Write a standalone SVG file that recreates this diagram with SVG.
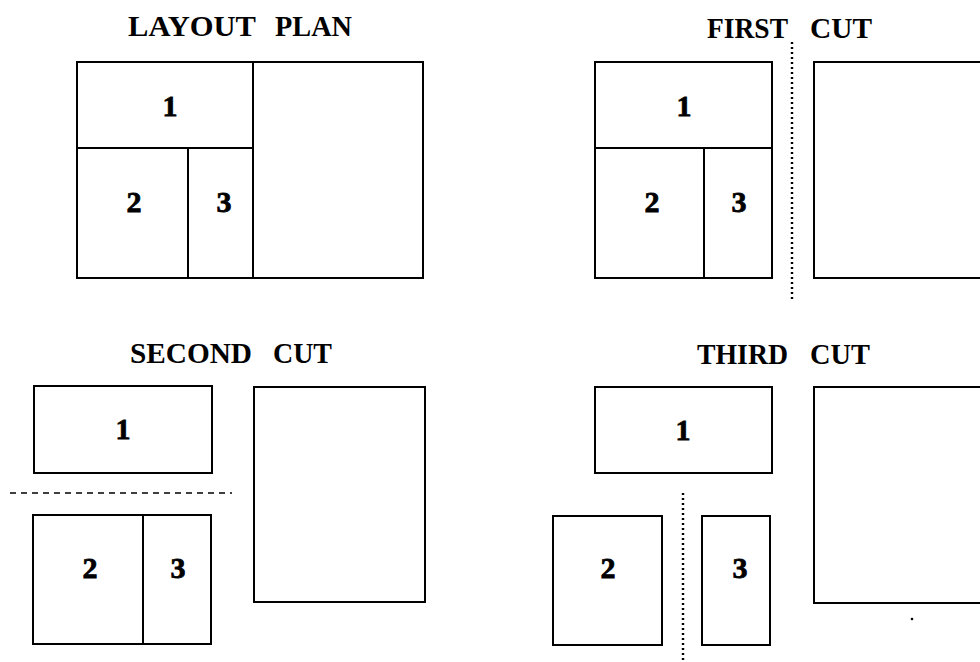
<svg xmlns="http://www.w3.org/2000/svg" width="980" height="662" viewBox="0 0 980 662">
<style>
.bx{fill:none;stroke:#000;stroke-width:2}
.ln{stroke:#000;stroke-width:2;fill:none}
.t{font-family:"Liberation Serif","Times New Roman",serif;font-weight:bold;font-size:29px;fill:#000}
.n{font-family:"Liberation Serif","Times New Roman",serif;font-weight:bold;font-size:30px;fill:#000;stroke:#000;stroke-width:0.8;text-anchor:middle}
.dot{stroke:#000;stroke-width:2.4;stroke-dasharray:2 3;fill:none}
.dash{stroke:#000;stroke-width:1.6;stroke-dasharray:6 5;fill:none}
</style>
<rect width="980" height="662" fill="#fff"/>

<g id="layout-plan">
<text class="t" x="128" y="36" textLength="128" lengthAdjust="spacingAndGlyphs">LAYOUT</text>
<text class="t" x="275" y="36" textLength="77" lengthAdjust="spacingAndGlyphs">PLAN</text>
<rect class="bx" x="77" y="62" width="346" height="216"/>
<line class="ln" x1="253" y1="62" x2="253" y2="278"/>
<line class="ln" x1="77" y1="148" x2="253" y2="148"/>
<line class="ln" x1="188" y1="148" x2="188" y2="278"/>
<text class="n" x="170" y="116">1</text>
<text class="n" x="134" y="212">2</text>
<text class="n" x="224" y="212">3</text>
</g>

<g id="first-cut">
<text class="t" x="707" y="38" textLength="81" lengthAdjust="spacingAndGlyphs">FIRST</text>
<text class="t" x="810" y="38" textLength="62" lengthAdjust="spacingAndGlyphs">CUT</text>
<rect class="bx" x="595" y="62" width="177" height="216"/>
<line class="ln" x1="595" y1="148" x2="772" y2="148"/>
<line class="ln" x1="704" y1="148" x2="704" y2="278"/>
<rect class="bx" x="814" y="62" width="200" height="216"/>
<text class="n" x="684" y="116">1</text>
<text class="n" x="652" y="212">2</text>
<text class="n" x="739" y="212">3</text>
</g>

<g id="second-cut">
<text class="t" x="130" y="363" textLength="122" lengthAdjust="spacingAndGlyphs">SECOND</text>
<text class="t" x="273" y="363" textLength="59" lengthAdjust="spacingAndGlyphs">CUT</text>
<rect class="bx" x="34" y="386" width="178" height="87"/>
<rect class="bx" x="33" y="515" width="178" height="129"/>
<line class="ln" x1="143" y1="515" x2="143" y2="644"/>
<rect class="bx" x="254" y="387" width="171" height="215"/>
<text class="n" x="123" y="439">1</text>
<text class="n" x="90" y="578">2</text>
<text class="n" x="178" y="578">3</text>
</g>

<g id="third-cut">
<text class="t" x="697" y="364" textLength="91" lengthAdjust="spacingAndGlyphs">THIRD</text>
<text class="t" x="810" y="364" textLength="60" lengthAdjust="spacingAndGlyphs">CUT</text>
<rect class="bx" x="595" y="387" width="177" height="86"/>
<rect class="bx" x="553" y="516" width="109" height="129"/>
<rect class="bx" x="702" y="516" width="68" height="129"/>
<rect class="bx" x="814" y="387" width="200" height="216"/>
<circle cx="912" cy="619" r="1.3" fill="#000"/>
<text class="n" x="683" y="440">1</text>
<text class="n" x="608" y="578">2</text>
<text class="n" x="740" y="578">3</text>
</g>

<g id="cuts">
<line class="dot" x1="792" y1="42" x2="792" y2="300"/>
<line class="dash" x1="10" y1="493" x2="232" y2="493"/>
<line class="dot" x1="683" y1="493" x2="683" y2="662"/>
</g>
</svg>
